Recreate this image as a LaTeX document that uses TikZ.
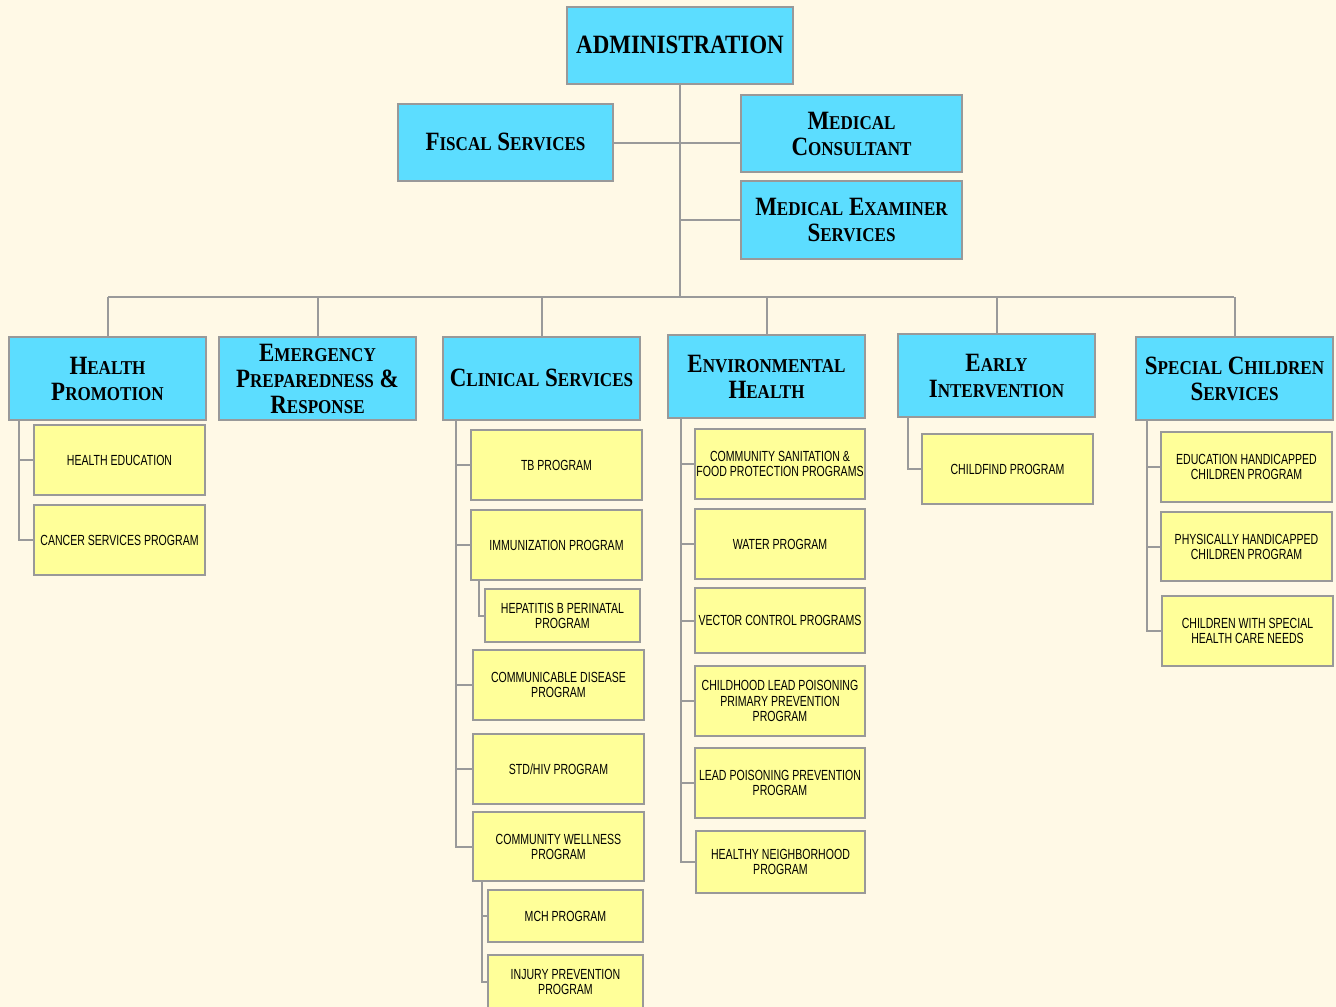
\documentclass[tikz,border=0pt]{standalone}
\usepackage{fontspec}
\newfontfamily\hdfont[FakeStretch=0.87]{Liberation Serif}
\newfontfamily\lffont[FakeStretch=0.72]{Liberation Sans}
\definecolor{bg}{HTML}{FFF9E6}
\definecolor{hdblue}{HTML}{5CDDFF}
\definecolor{lfyellow}{HTML}{FFFF99}
\definecolor{bordergray}{HTML}{999999}
\definecolor{linegray}{HTML}{9A9A9A}
\newcommand\smc[1]{{\fontsize{14.7pt}{19.5pt}\selectfont #1}}
\newcommand\bx[7]{\node[#6, minimum width={(#4-#2)*0.75pt}, minimum height={(#5-#3)*0.75pt}] (#1) at ({(#2+#4)/2},{(#3+#5)/2}) {#7};}
\begin{document}
\begin{tikzpicture}[x=0.75pt,y=-0.75pt,
  hd/.style={draw=bordergray, line width=1.5pt, fill=hdblue, inner sep=0pt, outer sep=0pt, align=center,
    font=\hdfont\bfseries\fontsize{19.8pt}{19.5pt}\selectfont, text=black},
  lf/.style={draw=bordergray, line width=1.5pt, fill=lfyellow, inner sep=0pt, outer sep=0pt, align=center,
    font=\lffont\fontsize{11pt}{11.3pt}\selectfont, text=black},
  conn/.style={draw=linegray, line width=1.5pt}]
\fill[bg] (0,0) rectangle (1336,1007);
\useasboundingbox (0,0) rectangle (1336,1007);
\clip (0,0) rectangle (1336,1007);

% top level
\bx{admin}{567}{7}{793}{84}{hd}{\raisebox{1.5pt}{ADMINISTRATION}}
\bx{fiscal}{398}{104}{613}{181}{hd}{\raisebox{1.5pt}{F\smc{ISCAL} S\smc{ERVICES}}}
\bx{medcons}{741}{95}{962}{172}{hd}{M\smc{EDICAL}\\C\smc{ONSULTANT}}
\bx{medex}{741}{181}{962}{259}{hd}{M\smc{EDICAL} E\smc{XAMINER}\\S\smc{ERVICES}}

% divisions
\bx{hp}{9}{337}{206}{420}{hd}{H\smc{EALTH}\\P\smc{ROMOTION}}
\bx{emerg}{219}{337}{416}{420}{hd}{E\smc{MERGENCY}\\P\smc{REPAREDNESS} \&\\R\smc{ESPONSE}}
\bx{clin}{443}{337}{640}{420}{hd}{\raisebox{1.5pt}{C\smc{LINICAL} S\smc{ERVICES}}}
\bx{env}{668}{335}{865}{418}{hd}{E\smc{NVIRONMENTAL}\\H\smc{EALTH}}
\bx{early}{898}{334}{1095}{417}{hd}{E\smc{ARLY}\\I\smc{NTERVENTION}}
\bx{spec}{1136}{337}{1333}{420}{hd}{S\smc{PECIAL} C\smc{HILDREN}\\S\smc{ERVICES}}

% health promotion
\bx{he}{34}{425}{205}{495}{lf}{HEALTH EDUCATION}
\bx{cancer}{34}{505}{205}{575}{lf}{CANCER SERVICES PROGRAM}

% clinical
\bx{tb}{471}{430}{642}{500}{lf}{TB PROGRAM}
\bx{imm}{471}{510}{642}{580}{lf}{IMMUNIZATION PROGRAM}
\bx{hep}{485}{589}{640}{642}{lf}{HEPATITIS B PERINATAL\\PROGRAM}
\bx{comm}{473}{650}{644}{720}{lf}{COMMUNICABLE DISEASE\\PROGRAM}
\bx{std}{473}{734}{644}{804}{lf}{STD/HIV PROGRAM}
\bx{well}{473}{812}{644}{881}{lf}{COMMUNITY WELLNESS\\PROGRAM}
\bx{mch}{488}{890}{643}{942}{lf}{MCH PROGRAM}
\bx{inj}{488}{955}{643}{1009}{lf}{INJURY PREVENTION\\PROGRAM}

% environmental
\bx{san}{695}{429}{865}{499}{lf}{COMMUNITY SANITATION \&\\FOOD PROTECTION PROGRAMS}
\bx{water}{695}{509}{865}{579}{lf}{WATER PROGRAM}
\bx{vector}{695}{588}{865}{653}{lf}{VECTOR CONTROL PROGRAMS}
\bx{child}{695}{666}{865}{736}{lf}{CHILDHOOD LEAD POISONING\\PRIMARY PREVENTION\\PROGRAM}
\bx{lead}{695}{748}{865}{818}{lf}{LEAD POISONING PREVENTION\\PROGRAM}
\bx{hood}{696}{831}{865}{893}{lf}{HEALTHY NEIGHBORHOOD\\PROGRAM}

% early intervention
\bx{cf}{922}{434}{1093}{504}{lf}{CHILDFIND PROGRAM}

% special children
\bx{edu}{1161}{432}{1332}{502}{lf}{EDUCATION HANDICAPPED\\CHILDREN PROGRAM}
\bx{phys}{1161}{512}{1332}{581}{lf}{PHYSICALLY HANDICAPPED\\CHILDREN PROGRAM}
\bx{cshcn}{1162}{596}{1333}{666}{lf}{CHILDREN WITH SPECIAL\\HEALTH CARE NEEDS}

% connectors: top
\coordinate (busL) at (108,297);
\coordinate (busR) at (1234,297);
\draw[conn] (admin.south) -- (admin.south |- busL);
\draw[conn] (fiscal.east) -- (fiscal.east -| medcons.west);
\draw[conn] (medex.west) -- (medex.west -| admin.south);
\draw[conn] (busL) -- (busR);
\foreach \n in {hp,emerg,clin,env,early,spec}
  \draw[conn] (\n.north) -- (\n.north |- busL);

% connectors: leaves (shifts in px)
\coordinate (hpA) at ([xshift=7.5pt]hp.south west);
\draw[conn] (hpA) |- (he.west);
\draw[conn] (hpA) |- (cancer.west);

\coordinate (clA) at ([xshift=9.75pt]clin.south west);
\foreach \n in {tb,imm,comm,std,well}
  \draw[conn] (clA) |- (\n.west);
\coordinate (imA) at ([xshift=6pt]imm.south west);
\draw[conn] (imA) |- (hep.west);
\coordinate (wlA) at ([xshift=6.75pt]well.south west);
\draw[conn] (wlA) |- (mch.west);
\draw[conn] (wlA) |- (inj.west);

\coordinate (enA) at ([xshift=9.75pt]env.south west);
\foreach \n in {san,water,vector,child,lead,hood}
  \draw[conn] (enA) |- (\n.west);

\coordinate (eiA) at ([xshift=7.5pt]early.south west);
\draw[conn] (eiA) |- (cf.west);

\coordinate (scA) at ([xshift=8.25pt]spec.south west);
\foreach \n in {edu,phys,cshcn}
  \draw[conn] (scA) |- (\n.west);
\end{tikzpicture}
\end{document}
